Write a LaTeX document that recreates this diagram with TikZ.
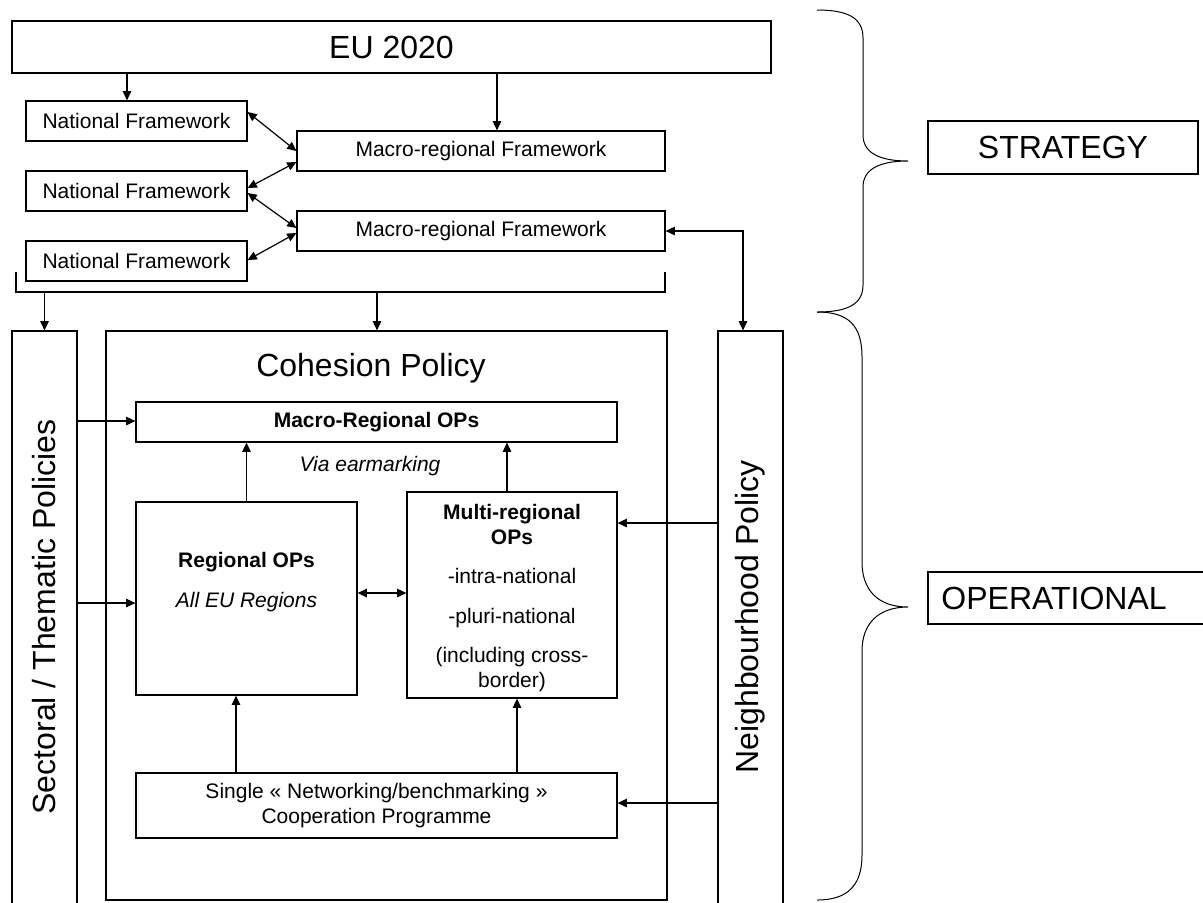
\documentclass[tikz,border=0pt]{standalone}
\usepackage{fontspec}
\setmainfont{Liberation Sans}
\usetikzlibrary{arrows.meta,fit}
\tikzset{
	box/.style={draw, line width=0.6pt, inner sep=0pt},
	arr/.style={line width=0.6pt, -{Triangle[length=4.6pt,width=4.2pt]}},
	dblarr/.style={line width=0.6pt, {Triangle[length=4.6pt,width=4.2pt]}-{Triangle[length=4.6pt,width=4.2pt]}},
	bigtxt/.style={font=\fontsize{16}{19}\selectfont},
	smalltxt/.style={font=\fontsize{10.5}{12.6}\selectfont, align=center},
	brace/.style={line width=0.5pt}
}

\begin{document}
\begin{tikzpicture}[x=0.5pt, y=-0.5pt]
			%%%%% START %%%%%
			\useasboundingbox (0,0) rectangle (1203,902);
			
			\node[box, fit={(12,21) (771,73)}] (eu) {};
			\node[bigtxt] (eutxt) at (eu) {EU 2020};
			
			\node[box, fit={(26,101) (247,141)}] (nf1) {};
			\node[box, fit={(26,171) (247,211)}] (nf2) {};
			\node[box, fit={(26,241) (247,281)}] (nf3) {};
			\node[smalltxt] (nf1txt) at (nf1) {National Framework};
			\node[smalltxt] (nf2txt) at (nf2) {National Framework};
			\node[smalltxt] (nf3txt) at (nf3) {National Framework};
			
			\node[box, fit={(297,131) (665,171)}] (mr1) {};
			\node[box, fit={(297,211) (665,251)}] (mr2) {};
			\node[smalltxt] (mr1txt) at (mr1) {Macro-regional Framework};
			\node[smalltxt] (mr2txt) at (mr2) {Macro-regional Framework};
			
			\draw[arr] (eu.south -| 127,0) -- (nf1.north -| 127,0);
			\draw[arr] (eu.south -| 497,0) -- (mr1.north -| 497,0);
			
			\draw[dblarr] (nf1.east |- 0,112) -- (mr1.west |- 0,151);
			\draw[dblarr] (nf2.east |- 0,188) -- (mr1.west |- 0,162);
			\draw[dblarr] (nf2.east |- 0,193) -- (mr2.west |- 0,228);
			\draw[dblarr] (nf3.east |- 0,260) -- (mr2.west |- 0,233);
			
			\draw[line width=0.6pt] (16,272) |- (665,292) -- (665,272);
			
			\node[box, fit={(12,331) (77,910)}] (sect) {};
			\node[box, fit={(106,331) (667,900)}] (coh) {};
			\node[box, fit={(718,331) (783,910)}] (nbh) {};
			
			\node[bigtxt, rotate=90] (secttxt) at (44,617) {Sectoral / Thematic Policies};
			\node[bigtxt, rotate=90] (nbhtxt) at (750,617) {Neighbourhood Policy};
			\node[bigtxt] (cohtxt) at (371,368) {Cohesion Policy};
			
			\draw[arr] (sect.north |- 0,292) -- (sect.north);
			\draw[arr] (377,292) -- (coh.north -| 377,0);
			\draw[dblarr] (mr2.east) -| (nbh.north -| 743,0);
			
			\node[box, fit={(136,402) (617,442)}] (mro) {};
			\node[smalltxt] (mrotxt) at (mro) {\textbf{Macro-Regional OPs}};
			\node[smalltxt] (viatxt) at (370,466) {\textit{Via earmarking}};
			
			\node[box, fit={(136,502) (357,695)}] (reg) {};
			\node[smalltxt] (regtxt) at (246.5,582) {\textbf{Regional OPs}\\[7pt]\textit{All EU Regions}};
			
			\node[box, fit={(407,492) (617,698)}] (multi) {};
			\node[smalltxt] (multitxt) at (512,598) {\textbf{Multi-regional}\\\textbf{OPs}\\[7pt]-intra-national\\[7pt]-pluri-national\\[7pt](including cross-\\border)};
			
			\node[box, fit={(136,773) (617,838)}] (sgl) {};
			\node[smalltxt] (sgltxt) at (sgl) {Single « Networking/benchmarking »\\Cooperation Programme};
			
			\draw[arr] (sect.east |- 0,421) -- (mro.west |- 0,421);
			\draw[arr] (sect.east |- 0,603) -- (reg.west |- 0,603);
			\draw[arr] (reg.north) -- (reg.north |- mro.south);
			\draw[arr] (multi.north -| 507,0) -- (mro.south -| 507,0);
			\draw[dblarr] (reg.east |- 0,593) -- (multi.west |- 0,593);
			\draw[arr] (sgl.north -| 236,0) -- (reg.south -| 236,0);
			\draw[arr] (sgl.north -| 517,0) -- (multi.south -| 517,0);
			\draw[arr] (nbh.west |- 0,523) -- (multi.east |- 0,523);
			\draw[arr] (nbh.west |- 0,803) -- (sgl.east |- 0,803);
			
			% braces
			\draw[brace] (817,10) .. controls (848,10) and (863,18) .. (863,38) -- (863,135) .. controls (863,152) and (878,161) .. (908,161) .. controls (878,161) and (863,170) .. (863,187) -- (863,285) .. controls (863,304) and (848,312) .. (817,312);
			\draw[brace] (817,312) .. controls (848,312) and (862,325) .. (862,357) -- (862,562) .. controls (862,590) and (878,607) .. (908,607) .. controls (878,607) and (862,624) .. (862,651) -- (862,855) .. controls (862,885) and (848,900) .. (817,900);
			
			\node[box, fit={(928,121) (1198,174)}] (strat) {};
			\node[bigtxt] (strattxt) at (strat) {STRATEGY};
			\node[box, fit={(928,572) (1210,624)}] (oper) {};
			\node[bigtxt, anchor=west, inner sep=0pt] (opertxt) at (941,598) {OPERATIONAL};
			%%%%% END %%%%%
\end{tikzpicture}
\end{document}
